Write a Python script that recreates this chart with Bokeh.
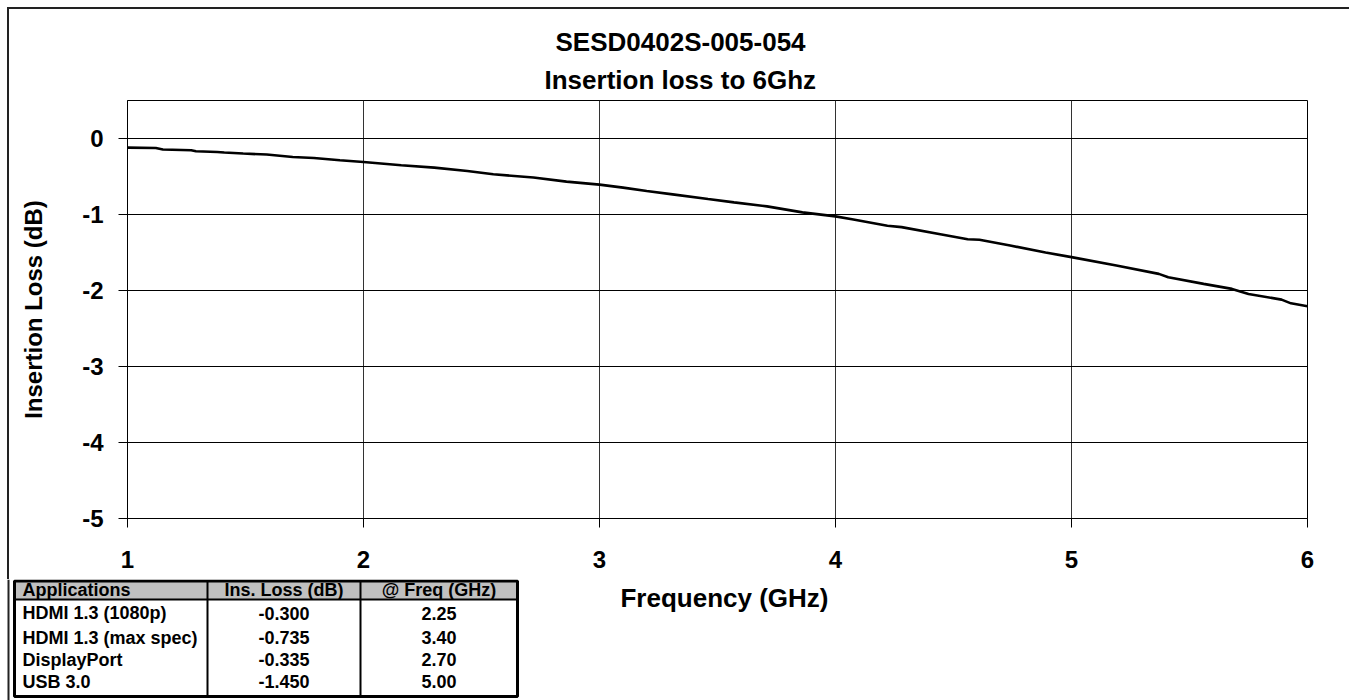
from bokeh.plotting import figure
from bokeh.models import (FixedTicker, Title, Range1d, ColumnDataSource, GridBox, Div)
from bokeh.core.properties import value
from bokeh.embed import file_html
from bokeh.resources import INLINE

# ---------------- data ----------------
freq_ghz = [1.00, 1.12, 1.15, 1.27, 1.29, 1.38, 1.41, 1.49, 1.59, 1.70, 1.79, 1.90,
            2.00, 2.16, 2.30, 2.44, 2.55, 2.72, 2.86, 3.00, 3.10, 3.20, 3.31, 3.46,
            3.57, 3.71, 3.86, 4.00, 4.07, 4.22, 4.28, 4.45, 4.56, 4.61, 4.74, 4.89,
            5.00, 5.19, 5.37, 5.41, 5.56, 5.68, 5.75, 5.89, 5.93, 6.00]
loss_db = [-0.120, -0.125, -0.145, -0.155, -0.168, -0.177, -0.185, -0.198, -0.211, -0.243,
           -0.256, -0.286, -0.309, -0.352, -0.383, -0.427, -0.471, -0.514, -0.567, -0.607,
           -0.646, -0.690, -0.735, -0.797, -0.840, -0.893, -0.972, -1.025, -1.063, -1.148,
           -1.166, -1.262, -1.325, -1.333, -1.408, -1.500, -1.561, -1.672, -1.781, -1.826,
           -1.913, -1.979, -2.045, -2.120, -2.169, -2.208]
x_ticks = [1, 2, 3, 4, 5, 6]
y_ticks = [0, -1, -2, -3, -4, -5]
title_lines = ["SESD0402S-005-054", "Insertion loss to 6Ghz"]
x_label = "Frequency (GHz)"
y_label = "Insertion Loss (dB)"
table_header = ["Applications", "Ins. Loss (dB)", "@ Freq (GHz)"]
applications = ["HDMI 1.3 (1080p)", "HDMI 1.3 (max spec)", "DisplayPort", "USB 3.0"]
ins_loss = ["-0.300", "-0.735", "-0.335", "-1.450"]
at_freq = ["2.25", "3.40", "2.70", "5.00"]

# ---------------- layout ----------------
FONT = "Liberation Sans"
W, H = 1349, 700
SPLIT = 579            # page y where the lower strip (table + x-axis title) begins
TW = 522               # width of the table strip
FL, FR, FT, FB = 127, 1307, 100, 518  # chart frame edges (pixels)

p = figure(width=W, height=SPLIT, x_range=(1, 6), y_range=(-5, 0.5),
           output_backend="svg", toolbar_location=None,
           min_border_left=FL, min_border_right=W - FR,
           min_border_top=FT, min_border_bottom=SPLIT - FB)
p.background_fill_color = "white"
p.border_fill_color = "white"
p.outline_line_color = "black"
p.outline_line_width = 1

p.xaxis.ticker = FixedTicker(ticks=x_ticks)
p.yaxis.ticker = FixedTicker(ticks=y_ticks)
p.yaxis.major_label_overrides = {t: str(t) for t in y_ticks}
for ax in (p.xaxis, p.yaxis):
    ax.axis_line_color = "black"
    ax.major_tick_line_color = "black"
    ax.major_tick_out = 9
    ax.major_tick_in = 0
    ax.minor_tick_line_color = None
    ax.major_label_text_font = FONT
    ax.major_label_text_font_style = "bold"
    ax.major_label_text_font_size = "24px"
    ax.major_label_text_color = "black"
    ax.axis_label_text_font = FONT
    ax.axis_label_text_font_style = "bold"
    ax.axis_label_text_color = "black"
p.yaxis.axis_label = y_label
p.yaxis.axis_label_text_font_size = "24px"
p.xaxis.major_label_standoff = 23
p.yaxis.major_label_standoff = 15
p.yaxis.axis_label_standoff = 32

p.xgrid.ticker = FixedTicker(ticks=x_ticks)
p.ygrid.ticker = FixedTicker(ticks=y_ticks)
p.xgrid.grid_line_color = "#333333"
p.ygrid.grid_line_color = "black"

p.line(freq_ghz, loss_db, line_color="black", line_width=2.6)

# title: two lines, centred on x = 680 px
title_offsets = [428, 417]
t2 = Title(text=title_lines[1], align="left", offset=title_offsets[1], standoff=12,
           text_font=FONT, text_font_style="bold", text_font_size="26px", text_color="black")
t1 = Title(text=title_lines[0], align="left", offset=title_offsets[0], standoff=0,
           text_font=FONT, text_font_style="bold", text_font_size="26px", text_color="black")
p.add_layout(t2, "above")
p.add_layout(t1, "above")

# ---------------- lower strip: table ----------------
SH = H - SPLIT


def ty(py):  # page y -> strip data y (upwards)
    return H - py


def strip_figure(width, x0):
    f = figure(width=width, height=SH, x_range=Range1d(x0, x0 + width),
               y_range=Range1d(0, SH), output_backend="svg", toolbar_location=None,
               x_axis_location=None, y_axis_location=None,
               min_border_left=0, min_border_right=0, min_border_top=0,
               min_border_bottom=0)
    f.grid.visible = False
    f.outline_line_color = None
    f.background_fill_color = "white"
    f.border_fill_color = "white"
    return f


tf = strip_figure(TW, 0)
TL, TR, TT, THB, TBB = 14, 517, 580.5, 599, 696
C1, C2 = 207, 360
tf.quad(left=[TL], right=[TR], top=[ty(TT)], bottom=[ty(THB)], fill_color="#c0c0c0",
        line_color=None)
tf.segment(x0=[TL, C1, C2], y0=[ty(THB), ty(TT), ty(TT)],
           x1=[TR, C1, C2], y1=[ty(THB), ty(TBB), ty(TBB)],
           line_color="black", line_width=2)
tf.quad(left=[TL], right=[TR], top=[ty(TT)], bottom=[ty(TBB)], fill_color=None,
        line_color="black", line_width=3)
# continuation of the outer chart border's left edge
tf.segment(x0=[8], y0=[ty(SPLIT)], x1=[8], y1=[ty(H)], line_color="#222222", line_width=2)

col_x = [22, (C1 + C2) / 2, (C2 + TR) / 2]
hdr_src = ColumnDataSource(dict(x=col_x, y=[ty(589.5)] * 3, t=table_header,
                                a=["left", "center", "center"]))
tf.text(x="x", y="y", text="t", text_align="a", source=hdr_src, text_baseline="middle",
        text_font=value(FONT), text_font_style="bold", text_font_size="18px",
        text_color="black")
row_y = [ty(v) for v in (612.5, 637, 659, 681)]
cols = [applications, ins_loss, at_freq]
aligns = ["left", "center", "center"]
for c, (vals, al) in enumerate(zip(cols, aligns)):
    src = ColumnDataSource(dict(x=[col_x[c]] * len(vals), y=row_y, t=vals))
    tf.text(x="x", y="y", text="t", source=src, text_align=al, text_baseline="middle",
            text_font=value(FONT), text_font_style="bold", text_font_size="18px",
            text_color="black")

# ---------------- lower strip: x-axis title ----------------
lf = strip_figure(W - TW, TW)
lab_src = ColumnDataSource(dict(x=[724], y=[ty(597)], t=[x_label]))
lf.text(x="x", y="y", text="t", source=lab_src, text_align="center", text_baseline="middle",
        text_font=value(FONT), text_font_style="bold", text_font_size="26px",
        text_color="black")

# keep every figure's frame where it was asked to be (no cross-figure alignment)
for f in (p, tf, lf):
    try:
        f.frame_align = False
    except Exception:
        pass

# outer chart border over the upper part (left and top edges)
border = Div(text="", width=W, height=SPLIT, margin=0,
             styles={"background": "linear-gradient(#222222, #222222) 7px 7px / 2px 100% no-repeat, "
                                   "linear-gradient(#222222, #222222) 7px 7px / 100% 2px no-repeat",
                     "pointer-events": "none"})

layout = GridBox(children=[(p, 0, 0, 1, 2), (border, 0, 0, 1, 2), (tf, 1, 0), (lf, 1, 1)],
                 rows=[f"{SPLIT}px", f"{SH}px"], cols=[f"{TW}px", f"{W - TW}px"],
                 spacing=0)

open("out.html", "w").write(file_html(layout, INLINE))
